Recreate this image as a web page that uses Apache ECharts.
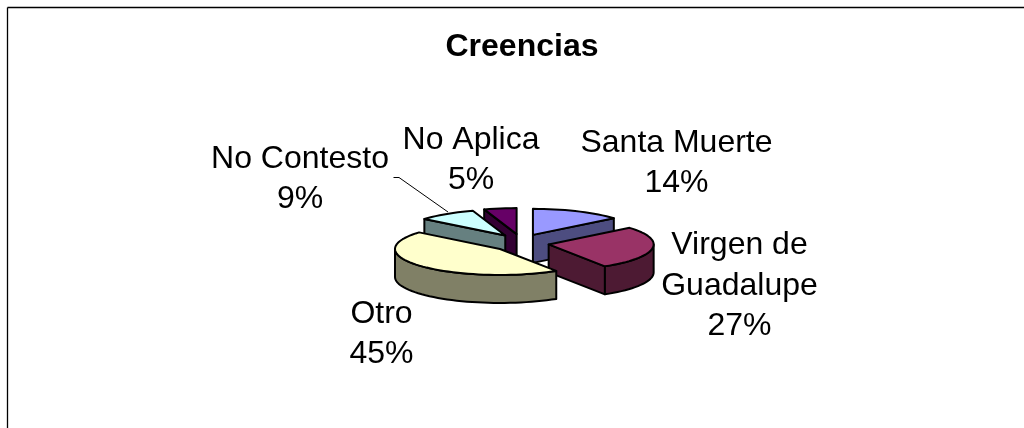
<!DOCTYPE html>
<html>
<head>
<meta charset="utf-8">
<style>html,body{margin:0;padding:0;background:#fff}#c{width:1024px;height:428px}</style>
<script src="https://cdn.jsdelivr.net/npm/echarts@6/dist/echarts.min.js"></script>
</head>
<body>
<div id="c"></div>
<script>
const categories = ['Santa Muerte', 'Virgen de\nGuadalupe', 'Otro', 'No Contesto', 'No Aplica'];
const values = [14, 27, 45, 9, 5];
const topColors = ['#9999FF', '#993366', '#FFFFCC', '#CCFFFF', '#660066'];
const sideColors = ['#4D4D80', '#4D1A33', '#808066', '#668080', '#330033'];
const drawOrder = [4, 3, 0, 1, 2];

const FONT = '32px "Liberation Sans", Arial, sans-serif';
const CX = 521, CY = 243, RX = 105, RY = 26, DEPTH = 28, EX = 28, EY = 9;
const labelAt = [[676.5, 163], [739.5, 286], [381.5, 334], [300, 179], [471, 160]];

const total = values.reduce((a, b) => a + b, 0);
const D = Math.PI / 180;

function renderSlice(params, api) {
  const i = api.value(1);
  let before = 0;
  for (let k = 0; k < i; k++) before += values[k];
  const a0 = before / total * 360, a1 = (before + api.value(0)) / total * 360;
  const mid = (a0 + a1) / 2 * D;
  const ax = CX + EX * Math.sin(mid), ay = CY - EY * Math.cos(mid);
  const pt = (deg, dz) => [ax + RX * Math.sin(deg * D), ay - RY * Math.cos(deg * D) + (dz || 0)];
  const arc = (s, e, dz) => {
    const out = [], n = Math.max(2, Math.ceil((e - s) / 3));
    for (let j = 0; j <= n; j++) out.push(pt(s + (e - s) * j / n, dz));
    return out;
  };
  const stroke = { stroke: '#000', lineWidth: 2, lineJoin: 'round' };
  const poly = (points, fill) => ({ type: 'polygon', shape: { points }, style: { fill, ...stroke } });
  const children = [];
  const radial = (deg) => {
    const p = pt(deg);
    children.push(poly([[ax, ay], p, [p[0], p[1] + DEPTH], [ax, ay + DEPTH]], sideColors[i]));
  };
  if (Math.sin(a0 * D) < -1e-6) radial(a0);
  if (Math.sin(a1 * D) > 1e-6) radial(a1);
  const s = Math.max(a0, 90), e = Math.min(a1, 270);
  if (e > s) children.push(poly(arc(s, e).concat(arc(s, e, DEPTH).reverse()), sideColors[i]));
  children.push(poly([[ax, ay]].concat(arc(a0, a1)), topColors[i]));
  return { type: 'group', children };
}

function renderLabel(params, api) {
  const i = api.value(1);
  return {
    type: 'text',
    style: {
      text: categories[i] + '\n' + api.value(0) + '%',
      x: labelAt[i][0], y: labelAt[i][1],
      align: 'center', verticalAlign: 'middle',
      font: FONT, lineHeight: 40.5, fill: '#000'
    }
  };
}

const sliceData = drawOrder.map(i => ({ name: categories[i], value: [values[i], i] }));

const chart = echarts.init(document.getElementById('c'), null, { renderer: 'canvas' });
chart.setOption({
  animation: false,
  backgroundColor: '#fff',
  title: {
    text: 'Creencias', left: 517, top: 42, textAlign: 'center', textVerticalAlign: 'middle',
    textStyle: { fontFamily: '"Liberation Sans", Arial, sans-serif', fontSize: 32, fontWeight: 'bold', color: '#000' }
  },
  graphic: [
    { type: 'line', shape: { x1: 7.5, y1: 7.5, x2: 1024, y2: 7.5 }, style: { stroke: '#000', lineWidth: 1.3 } },
    { type: 'line', shape: { x1: 7.5, y1: 7.5, x2: 7.5, y2: 428 }, style: { stroke: '#000', lineWidth: 1.3 } },
    { type: 'polyline', shape: { points: [[393.5, 177.5], [399, 177.5], [448, 212]] }, style: { stroke: '#000', lineWidth: 1, fill: 'none' } }
  ],
  series: [
    { type: 'custom', coordinateSystem: 'none', silent: true, renderItem: renderSlice, data: sliceData, encode: { value: 0 } },
    { type: 'custom', coordinateSystem: 'none', silent: true, renderItem: renderLabel, data: sliceData, encode: { value: 0 } }
  ]
});
</script>
</body>
</html>
